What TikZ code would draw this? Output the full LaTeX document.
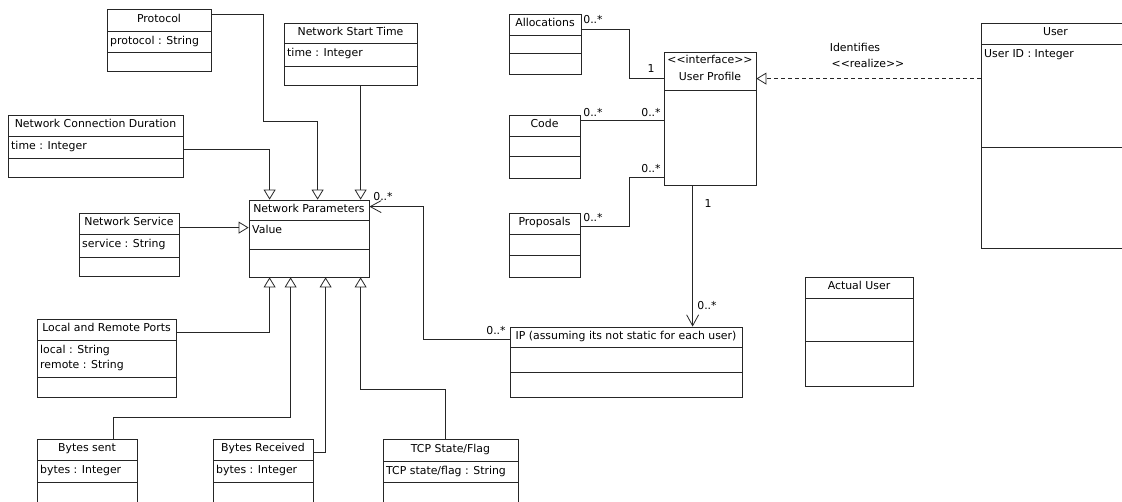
\documentclass[tikz,border=0pt]{standalone}
\usepackage{fontspec}
\setmainfont{DejaVu Sans}
\usetikzlibrary{arrows.meta,calc,fit,shadows}

\tikzset{
  umlfont/.style={font=\fontsize{10.9}{15}\selectfont},
  classbox/.style={draw=black!85, line width=0.8pt, fill=white, inner sep=0pt,
    drop shadow={shadow xshift=1.2pt, shadow yshift=-1.2pt, opacity=0.3, fill=black!60}},
  compline/.style={draw=black!85, line width=0.8pt},
  classtitle/.style={umlfont, anchor=center, inner sep=0pt, text height=7pt, text depth=2.5pt},
  classattr/.style={umlfont, anchor=north west, inner sep=0pt, align=left},
  mult/.style={umlfont, inner sep=0pt, text height=7pt, text depth=2.5pt},
  link/.style={draw=black!85, line width=0.8pt},
  gen/.style={link, -{Triangle[open, length=10pt, width=12pt, line width=0.8pt]}},
  nav/.style={link, -{Straight Barb[length=11pt, width=12pt, line width=0.8pt]}},
  realize/.style={gen, dash pattern=on 4pt off 3pt},
}

% stereotype brackets, kept as two separate angle characters
\newcommand{\lguil}{<\kern0pt<}
\newcommand{\rguil}{>\kern0pt>}

% class box: name, x1, y1, x2, y2, header line y, compartment line y, title, attributes
\newcommand{\umlclass}[9]{%
  \node[classbox, fit={(#2,#3) (#4,#5)}] (#1) {};
  \draw[compline] (#2,#6) -- (#4,#6);
  \draw[compline] (#2,#7) -- (#4,#7);
  \node[classtitle] (#1-title) at ($(#2,#3)!0.5!(#4,#6)$) {#8};
  \node[classattr] (#1-attr) at (#2+3,#6+5) {#9};
}

\begin{document}
\begin{tikzpicture}[x=1pt, y=-1pt]
\path[use as bounding box] (0,0) rectangle (1122,501);
\clip (0,0) rectangle (1122,501);

% network parameter classes
\umlclass{proto}{107}{9}{211}{71}{31}{52}{Protocol}{protocol : String}
\umlclass{nst}{284}{23}{417}{85}{43}{66}{Network Start Time}{time : Integer}
\umlclass{ncd}{8}{115}{183}{177}{136}{158}{Network Connection Duration}{time : Integer}
\umlclass{nsvc}{79}{213}{179}{276}{234}{257}{Network Service}{service : String}
\umlclass{np}{249}{200}{369}{277}{220}{249}{Network Parameters}{Value}
\umlclass{lrp}{37}{319}{176}{397}{340}{377}{Local and Remote Ports}{local : String\\remote : String}
\umlclass{bsent}{37}{439}{137}{520}{460}{482}{Bytes sent}{bytes : Integer}
\umlclass{brecv}{213}{439}{313}{520}{460}{482}{Bytes Received}{bytes : Integer}
\umlclass{tcp}{383}{439}{518}{520}{461}{482}{TCP State/Flag}{TCP state/flag : String}
\umlclass{ip}{510}{327}{742}{397}{347}{372}{IP (assuming its not static for each user)}{}

% user side classes
\umlclass{alloc}{509}{14}{581}{74}{35}{53}{Allocations}{}
\umlclass{code}{509}{115}{580}{178}{136}{156}{Code}{}
\umlclass{prop}{509}{213}{580}{277}{234}{255}{Proposals}{}
\umlclass{user}{981}{23}{1130}{248}{44}{147}{User}{User ID : Integer}
\umlclass{au}{805}{277}{913}{386}{298}{341}{Actual User}{}

% interface with a stereotype and a single compartment
\node[classbox, fit={(664,52) (756,185)}] (up) {};
\draw[compline] (664,90) -- (756,90);
\node[classtitle] (up-stereo) at (710,61.5) {\lguil interface\rguil};
\node[classtitle] (up-title) at (710,78.5) {User Profile};

% ports on Network Parameters
\coordinate (np-t1) at ([xshift=21pt]np.north west);
\coordinate (np-t2) at ([xshift=69pt]np.north west);
\coordinate (np-t3) at ([xshift=112pt]np.north west);
\coordinate (np-b1) at ([xshift=21pt]np.south west);
\coordinate (np-b2) at ([xshift=42pt]np.south west);
\coordinate (np-b3) at ([xshift=77pt]np.south west);
\coordinate (np-b4) at ([xshift=112pt]np.south west);
\coordinate (nsvc-p) at ([yshift=-15pt]nsvc.north east);
\coordinate (code-p) at ([yshift=-6pt]code.north east);
\coordinate (up-b) at ([xshift=29pt]up.south west);
\coordinate (user-p) at ([yshift=-56pt]user.north west);

% generalisations
\draw[gen] ([yshift=-6pt]proto.north east) -- ++(52,0) -- ++(0,107) -| (np-t2);
\draw[gen] (nst.south -| np-t3) -- (np-t3);
\draw[gen] ([yshift=-35pt]ncd.north east) -| (np-t1);
\draw[gen] (nsvc-p) -- (nsvc-p -| np.west);
\draw[gen] ([yshift=-14pt]lrp.north east) -| (np-b1);
\draw[gen] ([xshift=77pt]bsent.north west) -- ++(0,-21) -| (np-b2);
\draw[gen] ([yshift=-14pt]brecv.north east) -| (np-b3);
\draw[gen] ([xshift=63pt]tcp.north west) -- ++(0,-49) -| (np-b4);

% associations
\draw[nav] ([yshift=-13pt]ip.north west) -- ++(-86,0) |- ([yshift=-7pt]np.north east);
\draw[link] ([yshift=-16pt]alloc.north east) -- ++(48,0) |- ([yshift=-27pt]up.north west);
\draw[link] (code-p) -- (code-p -| up.west);
\draw[link] ([yshift=-14pt]prop.north east) -- ++(49,0) |- ([yshift=-126pt]up.north west);
\draw[nav] (up-b) -- (up-b |- ip.north);

% realisation
\draw[realize] (user-p) -- (user-p -| up.east);
\node[mult] (lbl-ident) at (855,49.5) {Identifies};
\node[mult] (lbl-real) at (868,65) {\lguil realize\rguil};

% multiplicities
\node[mult] (m-np) at (383,198) {0..*};
\node[mult] (m-ip) at (496,332) {0..*};
\node[mult] (m-alloc) at (593,21) {0..*};
\node[mult] (m-upa) at (651,70) {1};
\node[mult] (m-code) at (593,114) {0..*};
\node[mult] (m-upc) at (651,114) {0..*};
\node[mult] (m-upp) at (651,170) {0..*};
\node[mult] (m-prop) at (593,219) {0..*};
\node[mult] (m-upi) at (708,205) {1};
\node[mult] (m-ipu) at (707,307) {0..*};
\end{tikzpicture}
\end{document}
